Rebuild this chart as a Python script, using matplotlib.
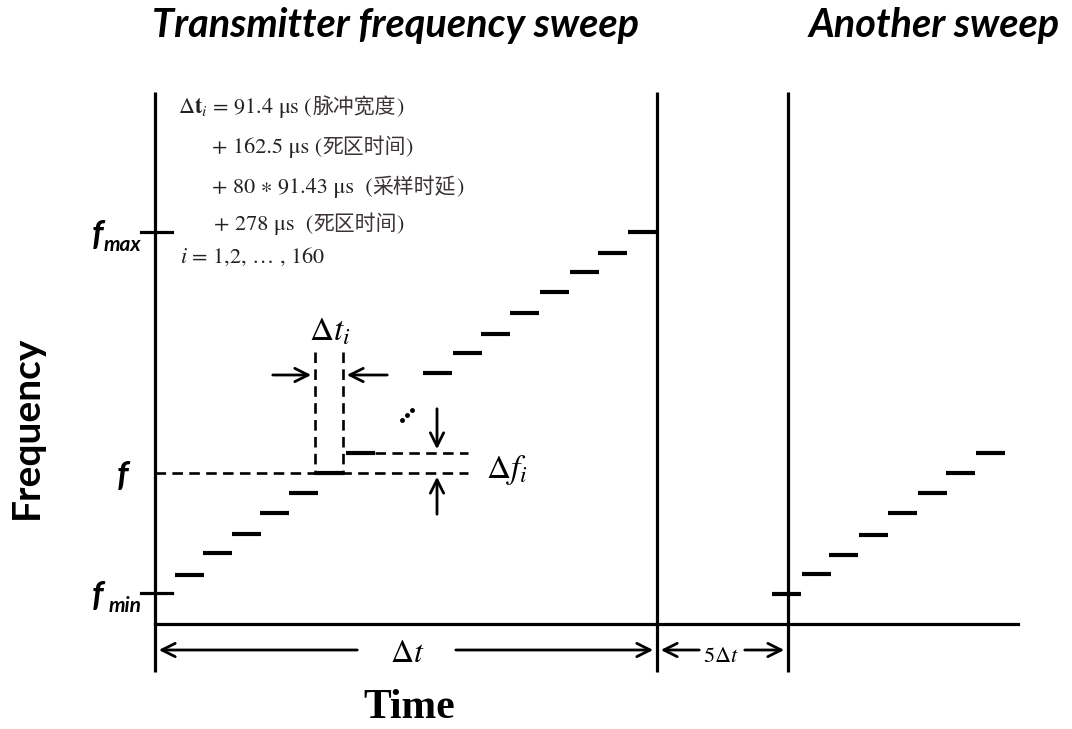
import matplotlib.pyplot as plt

plt.rcParams['mathtext.fontset'] = 'stix'

# step positions (diagram units, x = time, y = frequency, y grows downward)
sweep1_t = [175, 203, 232, 260, 289, 315, 346, 423, 453, 481, 510, 540, 570, 598, 628]
sweep1_f = [575, 553, 534, 513, 493, 473, 453, 373, 353, 334, 313, 292, 272, 253, 232]
sweep2_t = [772, 802, 829, 859, 888, 918, 946, 976]
sweep2_f = [594, 574, 555, 535, 513, 493, 473, 453]
step_w = 29

t0, t_end, t_next, t_right = 155, 657, 788, 1018
f_top, f_bottom, f_axis = 92, 672, 624
f_max, f_mid, f_min = 232, 473, 593
tick_names = ['max', '', 'min']

formula_lines = [
    (r'$\Delta \mathbf{t}_i$ = 91.4 μs (', '脉冲宽度', ')'),
    ('+ 162.5 μs (', '死区时间', ')'),
    ('+ 80 ∗ 91.43 μs  (', '采样时延', ')'),
    ('+ 278 μs  (', '死区时间', ')'),
]

fig = plt.figure(figsize=(10.72, 7.29), dpi=100)
ax = fig.add_axes([0, 0, 1, 1])
ax.set_xlim(0, 1072)
ax.set_ylim(729, 0)
ax.axis('off')

lw_axis = 2.3
# axes and sweep boundaries
for x in [t0, t_end, t_next]:
    ax.plot([x, x], [f_top, f_bottom], color='black', lw=lw_axis, solid_capstyle='butt')
ax.plot([t0, t_right], [f_axis, f_axis], color='black', lw=lw_axis)

# frequency ticks
for y in [f_max, f_min]:
    ax.plot([t0 - 14, t0 + 17], [y, y], color='black', lw=lw_axis)

# steps
for t, f in zip(sweep1_t, sweep1_f):
    ax.plot([t, t + step_w], [f, f], color='black', lw=3, solid_capstyle='butt')
for t, f in zip(sweep2_t, sweep2_f):
    ax.plot([t, t + step_w], [f, f], color='black', lw=3, solid_capstyle='butt')

# dashed guide lines
dash = dict(color='black', lw=1.9, dashes=(4, 2.4))
ax.plot([t0, 468], [f_mid, f_mid], **dash)
ax.plot([375, 468], [453, 453], **dash)
ax.plot([315, 315], [352, f_mid], **dash)
ax.plot([343, 343], [352, f_mid], **dash)
ax.plot([315, 343], [f_mid, f_mid], color='black', lw=2.2)

arrow = dict(arrowstyle='->', lw=2, color='black', mutation_scale=24)
# delta t_i arrows
ax.annotate('', xy=(314, 375), xytext=(270, 375), arrowprops=arrow)
ax.annotate('', xy=(344, 375), xytext=(390, 375), arrowprops=arrow)
ax.text(330, 340, r'$\Delta t_i$', fontsize=24, ha='center', va='baseline')
# delta f_i arrows
ax.annotate('', xy=(437, 452), xytext=(437, 406), arrowprops=arrow)
ax.annotate('', xy=(437, 474), xytext=(437, 517), arrowprops=arrow)
ax.text(486, 478, r'$\Delta f_i$', fontsize=24, ha='left', va='baseline')
# ellipsis
ax.plot([402, 407, 412], [420, 415, 410], 'o', color='black', ms=2.5)

# Delta t arrows
ax.annotate('', xy=(t0 + 1, 650), xytext=(360, 650), arrowprops=arrow)
ax.annotate('', xy=(t_end - 1, 650), xytext=(453, 650), arrowprops=arrow)
ax.text(407, 662, r'$\Delta t$', fontsize=23, ha='center', va='baseline')
ax.annotate('', xy=(t_end + 1, 650), xytext=(702, 650), arrowprops=arrow)
ax.annotate('', xy=(t_next - 1, 650), xytext=(742, 650), arrowprops=arrow)
ax.text(721, 662, r'$5\Delta t$', fontsize=16, ha='center', va='baseline')

# frequency labels
lab = dict(family='Lato', fontweight='bold', fontstyle='italic', color='black')
for y, name in zip([f_max, f_mid, f_min], tick_names):
    if name:
        ax.text(141, y + 19, name, fontsize=15, ha='right', va='baseline', **lab)
        ax.text(103, y + 13, 'f', fontsize=25, ha='right', va='baseline', **lab)
    else:
        ax.text(128, y + 13, 'f', fontsize=25, ha='right', va='baseline', **lab)

# formula block
latin = ['STIXGeneral', 'DejaVu Sans']
cjk = ['Noto Sans CJK SC', 'DejaVu Sans']
ys = [113, 153, 193, 230]
xs = [178, 212, 212, 214]
fig.canvas.draw()
for (a, b, c), x, y in zip(formula_lines, xs, ys):
    t1 = ax.text(x, y, a, fontsize=16, family=latin, color='#222222', va='baseline')
    bb = t1.get_window_extent(renderer=fig.canvas.get_renderer())
    x2 = ax.transData.inverted().transform((bb.x1, 0))[0]
    t2 = ax.text(x2, y, b, fontsize=15, family=cjk, color='#3c3434', va='baseline')
    bb2 = t2.get_window_extent(renderer=fig.canvas.get_renderer())
    x3 = ax.transData.inverted().transform((bb2.x1, 0))[0]
    ax.text(x3, y, c, fontsize=16, family=latin, color='#222222', va='baseline')
ax.text(180, 263, r'$i$ = 1,2, … , 160', fontsize=16, family=latin, color='#222222', va='baseline')

# titles and axis names
ttl = dict(family='Lato', fontweight='bold', fontstyle='italic', fontsize=28.5, va='baseline')
ax.text(395, 37, 'Transmitter frequency sweep', ha='center', **ttl)
ax.text(934, 37, 'Another sweep', ha='center', **ttl)
ax.text(26, 427, 'Frequency', rotation=90, ha='center', va='center',
        family='Lato', fontweight='bold', fontsize=28)
ax.text(409, 718, 'Time', ha='center', va='baseline', family='Liberation Serif',
        fontweight='bold', fontsize=30)

plt.savefig('out.png', dpi=100)
